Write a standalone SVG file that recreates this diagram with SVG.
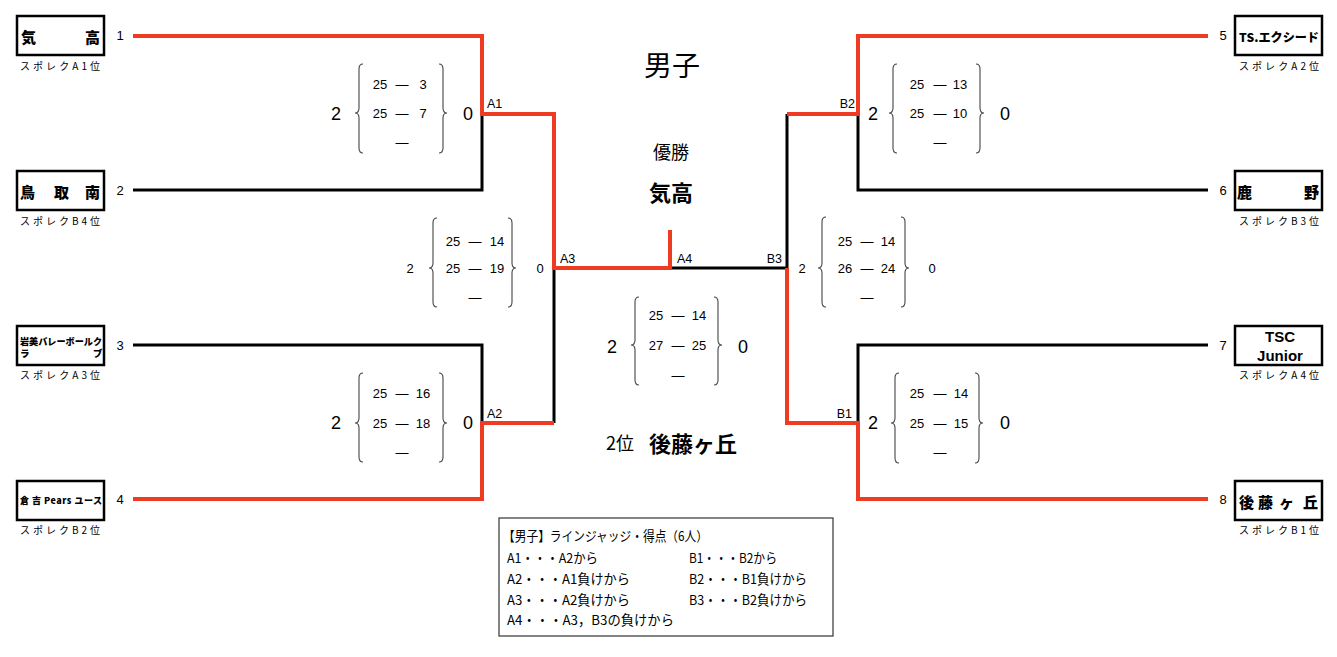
<svg xmlns="http://www.w3.org/2000/svg" width="1337" height="657" viewBox="0 0 1337 657">
<style>
text{font-family:"Liberation Sans","Noto Sans CJK JP",sans-serif;fill:#000;dominant-baseline:central}
.jp{font-family:"Noto Sans CJK JP",sans-serif}
.box{fill:#fff;stroke:#000;stroke-width:2.5}
.tn{font-family:"Noto Sans CJK JP",sans-serif;font-weight:900;font-size:15px}
.sub{font-family:"Noto Sans CJK JP",sans-serif;font-size:10px}
.num{font-size:13px}
.lbl{font-size:12.5px}
.sc{font-size:13px;text-anchor:middle}
.big{font-size:18px;text-anchor:middle}
.br{fill:none;stroke:#444;stroke-width:1.1}
.bk{fill:none;stroke:#000;stroke-width:3}
.rd{fill:none;stroke:#EE3B22;stroke-width:4}
.lg{font-family:"Noto Sans CJK JP",sans-serif;font-size:13.5px}
</style>
<rect width="1337" height="657" fill="#fff"/>

<g id="connectors">
<path class="bk" d="M133,190 H482 V114"/>
<path class="bk" d="M133,345 H482 V423"/>
<path class="bk" d="M554,268 V423"/>
<path class="bk" d="M670,268 H787 V114"/>
<path class="bk" d="M858,114 V190 H1208"/>
<path class="bk" d="M858,423 V345 H1208"/>
<path class="rd" d="M133,36 H482 V114 H554 V268 H670 V230"/>
<path class="rd" d="M133,499 H482 V423 H554"/>
<path class="rd" d="M1208,36 H858 V114 H787"/>
<path class="rd" d="M1208,499 H858 V423 H787 V268"/>
</g>

<g id="team1">
<rect class="box" x="17" y="16" width="87" height="39"/>
<text class="tn" x="21 85" y="36">気高</text>
<text class="sub" x="20" y="65" textLength="80" lengthAdjust="spacing">スポレクA1位</text>
<text class="num" x="120" y="35" text-anchor="middle">1</text>
</g>
<g id="team2">
<rect class="box" x="17" y="171" width="87" height="39"/>
<text class="tn" x="20 54 85" y="191">鳥取南</text>
<text class="sub" x="20" y="220" textLength="80" lengthAdjust="spacing">スポレクB4位</text>
<text class="num" x="120" y="190" text-anchor="middle">2</text>
</g>
<g id="team3">
<rect class="box" x="17" y="326" width="87" height="39"/>
<text class="jp" x="20" y="341" font-size="9.5" font-weight="900" textLength="82" lengthAdjust="spacingAndGlyphs">岩美バレーボールク</text>
<text class="jp" x="20 93" y="353" font-size="9.5" font-weight="900">ラブ</text>
<text class="sub" x="20" y="374" textLength="80" lengthAdjust="spacing">スポレクA3位</text>
<text class="num" x="120" y="345" text-anchor="middle">3</text>
</g>
<g id="team4">
<rect class="box" x="17" y="481" width="87" height="39"/>
<text class="jp" x="20" y="500" font-size="9" font-weight="900" textLength="82" lengthAdjust="spacing">倉 吉 Pears ユース</text>
<text class="sub" x="20" y="529" textLength="80" lengthAdjust="spacing">スポレクB2位</text>
<text class="num" x="120" y="499" text-anchor="middle">4</text>
</g>
<g id="team5">
<rect class="box" x="1235" y="16" width="87" height="39"/>
<text class="jp" x="1239" y="36" font-size="12" font-weight="900" textLength="80" lengthAdjust="spacingAndGlyphs">TS.エクシード</text>
<text class="sub" x="1239" y="65" textLength="80" lengthAdjust="spacing">スポレクA2位</text>
<text class="num" x="1223" y="35" text-anchor="middle">5</text>
</g>
<g id="team6">
<rect class="box" x="1235" y="171" width="87" height="39"/>
<text class="tn" x="1237 1304" y="191">鹿野</text>
<text class="sub" x="1239" y="220" textLength="80" lengthAdjust="spacing">スポレクB3位</text>
<text class="num" x="1223" y="190" text-anchor="middle">6</text>
</g>
<g id="team7">
<rect class="box" x="1235" y="326" width="87" height="39"/>
<text x="1280" y="336" font-size="15" font-weight="bold" text-anchor="middle">TSC</text>
<text x="1280" y="355" font-size="15" font-weight="bold" text-anchor="middle">Junior</text>
<text class="sub" x="1239" y="374" textLength="80" lengthAdjust="spacing">スポレクA4位</text>
<text class="num" x="1223" y="345" text-anchor="middle">7</text>
</g>
<g id="team8">
<rect class="box" x="1235" y="481" width="87" height="39"/>
<text class="tn" x="1239 1258 1279 1303" y="501">後藤ヶ丘</text>
<text class="sub" x="1239" y="529" textLength="80" lengthAdjust="spacing">スポレクB1位</text>
<text class="num" x="1223" y="499" text-anchor="middle">8</text>
</g>

<g id="title">
<text class="jp" x="672" y="64" font-size="28" text-anchor="middle">男子</text>
</g>
<g id="champion">
<text class="jp" x="671" y="151" font-size="18" text-anchor="middle">優勝</text>
<text class="jp" x="671" y="191" font-size="22" font-weight="bold" text-anchor="middle">気高</text>
</g>
<g id="runnerup">
<text class="jp" x="620" y="442" font-size="18" text-anchor="middle">2位</text>
<text class="jp" x="649" y="442" font-size="22" font-weight="bold">後藤ヶ丘</text>
</g>

<g id="matchA1">
<text class="lbl" x="487" y="104">A1</text>
<text class="big" x="336" y="114">2</text>
<path class="br" d="M363,64 Q359,64 359,69 V108 Q359,113 355,113 Q359,113 359,118 V148 Q359,153 363,153"/>
<text class="sc" x="380" y="84">25</text><text class="sc" x="402" y="84">—</text><text class="sc" x="423" y="84">3</text>
<text class="sc" x="380" y="113">25</text><text class="sc" x="402" y="113">—</text><text class="sc" x="423" y="113">7</text>
<text class="sc" x="402" y="142">—</text>
<path class="br" d="M439,64 Q443,64 443,69 V108 Q443,113 447,113 Q443,113 443,118 V148 Q443,153 439,153"/>
<text class="big" x="468" y="114">0</text>
</g>

<g id="matchA2">
<text class="lbl" x="487" y="414">A2</text>
<text class="big" x="336" y="423">2</text>
<path class="br" d="M363,373 Q359,373 359,378 V418 Q359,423 355,423 Q359,423 359,428 V457 Q359,462 363,462"/>
<text class="sc" x="380" y="393">25</text><text class="sc" x="402" y="393">—</text><text class="sc" x="423" y="393">16</text>
<text class="sc" x="380" y="423">25</text><text class="sc" x="402" y="423">—</text><text class="sc" x="423" y="423">18</text>
<text class="sc" x="402" y="452">—</text>
<path class="br" d="M439,373 Q443,373 443,378 V418 Q443,423 447,423 Q443,423 443,428 V457 Q443,462 439,462"/>
<text class="big" x="468" y="423">0</text>
</g>

<g id="matchA3">
<text class="lbl" x="560" y="259">A3</text>
<text class="sc" x="410" y="268">2</text>
<path class="br" d="M437,218 Q433,218 433,223 V263 Q433,268 429,268 Q433,268 433,273 V302 Q433,307 437,307"/>
<text class="sc" x="453" y="241">25</text><text class="sc" x="475" y="241">—</text><text class="sc" x="497" y="241">14</text>
<text class="sc" x="453" y="268">25</text><text class="sc" x="475" y="268">—</text><text class="sc" x="497" y="268">19</text>
<text class="sc" x="475" y="297">—</text>
<path class="br" d="M508,218 Q512,218 512,223 V263 Q512,268 516,268 Q512,268 512,273 V302 Q512,307 508,307"/>
<text class="sc" x="540" y="268">0</text>
</g>

<g id="matchA4">
<text class="lbl" x="677" y="259">A4</text>
<text class="big" x="612" y="347">2</text>
<path class="br" d="M639,297 Q635,297 635,302 V340 Q635,345 631,345 Q635,345 635,350 V380 Q635,385 639,385"/>
<text class="sc" x="656" y="315">25</text><text class="sc" x="678" y="315">—</text><text class="sc" x="699" y="315">14</text>
<text class="sc" x="656" y="345">27</text><text class="sc" x="678" y="345">—</text><text class="sc" x="699" y="345">25</text>
<text class="sc" x="678" y="375">—</text>
<path class="br" d="M714,297 Q718,297 718,302 V340 Q718,345 722,345 Q718,345 718,350 V380 Q718,385 714,385"/>
<text class="big" x="743" y="347">0</text>
</g>

<g id="matchB3">
<text class="lbl" x="782" y="259" text-anchor="end">B3</text>
<text class="sc" x="802" y="268">2</text>
<path class="br" d="M826,217 Q822,217 822,222 V263 Q822,268 818,268 Q822,268 822,273 V302 Q822,307 826,307"/>
<text class="sc" x="845" y="241">25</text><text class="sc" x="867" y="241">—</text><text class="sc" x="888" y="241">14</text>
<text class="sc" x="845" y="268">26</text><text class="sc" x="867" y="268">—</text><text class="sc" x="888" y="268">24</text>
<text class="sc" x="867" y="297">—</text>
<path class="br" d="M901,217 Q905,217 905,222 V263 Q905,268 909,268 Q905,268 905,273 V302 Q905,307 901,307"/>
<text class="sc" x="932" y="268">0</text>
</g>

<g id="matchB2">
<text class="lbl" x="855" y="104" text-anchor="end">B2</text>
<text class="big" x="873" y="114">2</text>
<path class="br" d="M897,64 Q893,64 893,69 V108 Q893,113 889,113 Q893,113 893,118 V148 Q893,153 897,153"/>
<text class="sc" x="917" y="84">25</text><text class="sc" x="940" y="84">—</text><text class="sc" x="960" y="84">13</text>
<text class="sc" x="917" y="113">25</text><text class="sc" x="940" y="113">—</text><text class="sc" x="960" y="113">10</text>
<text class="sc" x="940" y="142">—</text>
<path class="br" d="M976,64 Q980,64 980,69 V108 Q980,113 984,113 Q980,113 980,118 V148 Q980,153 976,153"/>
<text class="big" x="1005" y="114">0</text>
</g>

<g id="matchB1">
<text class="lbl" x="852" y="414" text-anchor="end">B1</text>
<text class="big" x="873" y="423">2</text>
<path class="br" d="M899,373 Q895,373 895,378 V418 Q895,423 891,423 Q895,423 895,428 V458 Q895,463 899,463"/>
<text class="sc" x="917" y="393">25</text><text class="sc" x="940" y="393">—</text><text class="sc" x="961" y="393">14</text>
<text class="sc" x="917" y="423">25</text><text class="sc" x="940" y="423">—</text><text class="sc" x="961" y="423">15</text>
<text class="sc" x="940" y="452">—</text>
<path class="br" d="M975,373 Q979,373 979,378 V418 Q979,423 983,423 Q979,423 979,428 V458 Q979,463 975,463"/>
<text class="big" x="1005" y="423">0</text>
</g>

<g id="legend">
<rect x="499" y="518" width="334" height="118" fill="#fff" stroke="#333" stroke-width="1.2"/>
<text class="lg" x="503" y="535" textLength="205" lengthAdjust="spacingAndGlyphs">【男子】ラインジャッジ・得点（6人）</text>
<text class="lg" x="507" y="557" textLength="91" lengthAdjust="spacingAndGlyphs">A1・・・A2から</text>
<text class="lg" x="507" y="578" textLength="123" lengthAdjust="spacingAndGlyphs">A2・・・A1負けから</text>
<text class="lg" x="507" y="599" textLength="123" lengthAdjust="spacingAndGlyphs">A3・・・A2負けから</text>
<text class="lg" x="507" y="619" textLength="167" lengthAdjust="spacingAndGlyphs">A4・・・A3，B3の負けから</text>
<text class="lg" x="689" y="557" textLength="88" lengthAdjust="spacingAndGlyphs">B1・・・B2から</text>
<text class="lg" x="689" y="578" textLength="118" lengthAdjust="spacingAndGlyphs">B2・・・B1負けから</text>
<text class="lg" x="689" y="599" textLength="118" lengthAdjust="spacingAndGlyphs">B3・・・B2負けから</text>
</g>
</svg>
